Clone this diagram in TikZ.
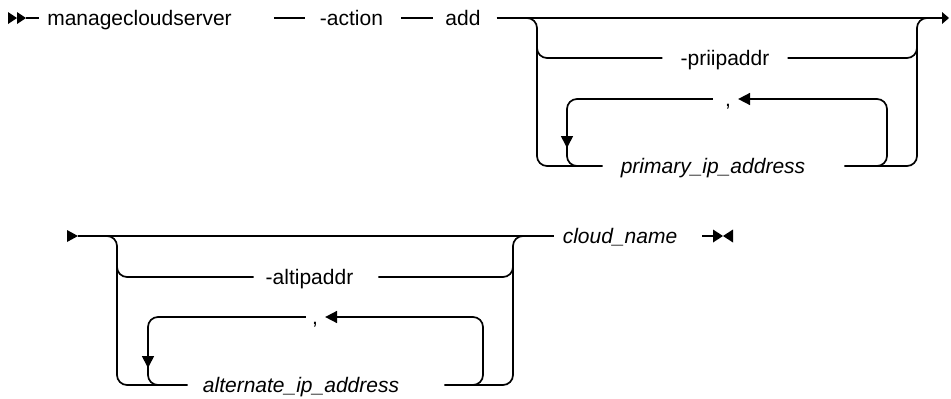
\documentclass[tikz,border=0pt]{standalone}
\usepackage{fontspec}
\setmainfont{Liberation Sans}
\usetikzlibrary{positioning,arrows.meta}

\begin{document}
\begin{tikzpicture}[
  x=1pt, y=-1pt,
  kw/.style={inner xsep=0pt, inner ysep=0pt, text height=14pt, text depth=0pt, font=\fontsize{21}{25}\selectfont},
  var/.style={kw, font=\fontsize{21}{25}\selectfont\itshape},
  rail/.style={line width=1.7pt},
  railbend/.style={rail, rounded corners=10pt},
  arrow/.style={railbend, -{Triangle[length=12pt,width=12pt]}}
]
\useasboundingbox (0,0) rectangle (951,399);

\node[kw] (A) at (139.5,18) {managecloudserver};
\node[kw] (B) at (351.5,18) {-action};
\node[kw] (C) at (463,18) {add};
\node[kw] (D) at (725,58) {-priipaddr};
\node[kw] (E) at (728,99) {,};
\node[var] (F) at (713,166) {primary\_ip\_address};

\node[kw] (G) at (309.5,277) {-altipaddr};
\node[kw] (H) at (315,317) {,};
\node[var] (I) at (301,385) {alternate\_ip\_address};
\node[var] (J) at (620,236) {cloud\_name};

\coordinate (s1) at (26,18);
\coordinate (r1) at (943,18);
\coordinate (l1) at (527,18);
\coordinate (s2) at (78,236);
\coordinate (l2) at (107,236);

% first line
\fill (8,12) -- (17,18) -- (8,24) -- cycle;
\fill (17,12) -- (26,18) -- (17,24) -- cycle;
\draw[rail] (s1) -- ([xshift=-8pt]A.west);
\draw[rail] ([xshift=42pt]A.east) -- ([xshift=-15pt]B.west);
\draw[rail] ([xshift=18pt]B.east) -- ([xshift=-12pt]C.west);
\draw[rail] ([xshift=16pt]C.east) -- (r1);
\fill (942,12) -- (949,18) -- (942,24) -- cycle;

\draw[railbend] (l1) -| (537,166) -- ([xshift=-18pt]F.west);
\draw[railbend] (537,40) |- ([xshift=-18pt]D.west);
\draw[railbend] ([xshift=39pt]F.east) -| (917,18) -- (927,18);
\draw[railbend] ([xshift=18pt]D.east) -| (917,40);

\draw[arrow] (877,166) -| (887,99) -- ([xshift=7pt]E.east);
\draw[arrow] ([xshift=-12pt]E.west) -| (567,148);
\draw[railbend] (567,140) |- (580,166);

% second line
\fill (67,230) -- (78,236) -- (67,242) -- cycle;
\draw[rail] (s2) -- ([xshift=-9pt]J.west);

\draw[railbend] (l2) -| (117,385) -- ([xshift=-15pt]I.west);
\draw[railbend] (117,260) |- ([xshift=-12pt]G.west);
\draw[railbend] ([xshift=45pt]I.east) -| (513,236) -- (523,236);
\draw[railbend] ([xshift=25pt]G.east) -| (513,260);

\draw[arrow] (473,385) -| (483,317) -- ([xshift=7pt]H.east);
\draw[arrow] ([xshift=-6pt]H.west) -| (148,368);
\draw[railbend] (148,360) |- (160,385);

\draw[rail] ([xshift=25pt]J.east) -- (713,236);
\fill (713,229.5) -- (723,236) -- (713,242.5) -- cycle;
\fill (733,229.5) -- (723,236) -- (733,242.5) -- cycle;

\end{tikzpicture}
\end{document}
